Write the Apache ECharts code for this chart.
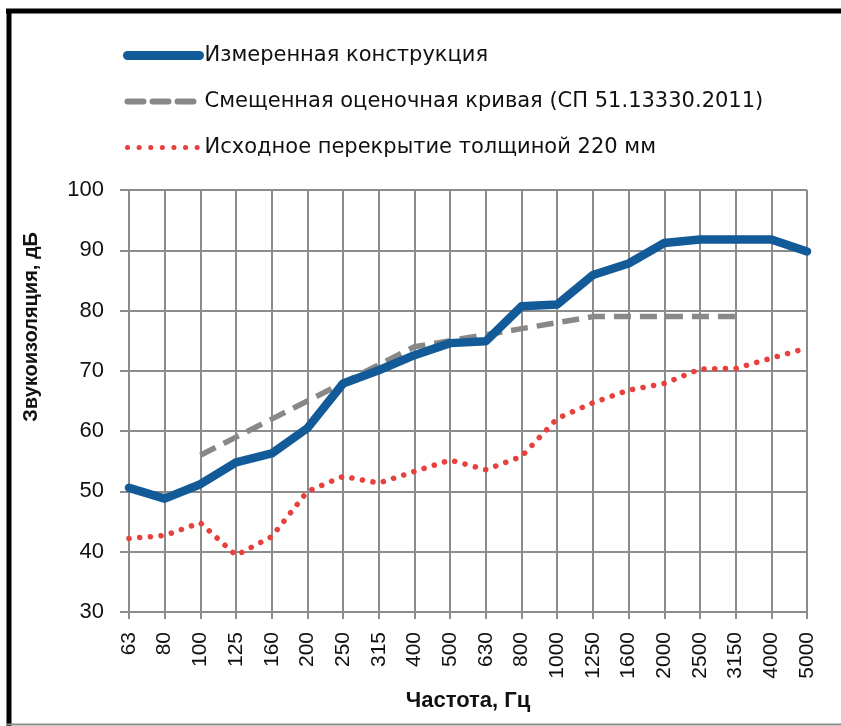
<!DOCTYPE html>
<html>
<head>
<meta charset="utf-8">
<script src="https://cdn.jsdelivr.net/npm/echarts@6/dist/echarts.min.js"></script>
<style>
html,body{margin:0;padding:0;background:#fff;}
#chart{width:841px;height:726px;}
</style>
</head>
<body>
<div id="chart"></div>
<script>
var categories = ['63','80','100','125','160','200','250','315','400','500','630','800','1000','1250','1600','2000','2500','3150','4000','5000'];
var measured = [50.6, 48.8, 51.2, 54.8, 56.3, 60.5, 67.9, 70.1, 72.6, 74.6, 74.9, 80.7, 81.0, 85.9, 87.8, 91.2, 91.8, 91.8, 91.8, 89.8];
var shiftedRef = [null, null, 56, 59, 62, 65, 68, 71, 74, 75, 76, 77, 78, 79, 79, 79, 79, 79, null, null];
var baseSlab = [42.2, 42.7, 44.8, 39.4, 42.5, 50.0, 52.5, 51.4, 53.3, 55.2, 53.6, 55.8, 62.1, 64.7, 66.8, 67.9, 70.3, 70.4, 72.1, 73.8];
var seriesNames = ['Измеренная конструкция', 'Смещенная оценочная кривая (СП 51.13330.2011)', 'Исходное перекрытие толщиной 220 мм'];
var yTicks = {min: 30, max: 100, step: 10};
var yName = 'Звукоизоляция, дБ';
var xName = 'Частота, Гц';

var FONT = 'Liberation Sans, Arial, sans-serif';
var LFONT = 'DejaVu Sans, Liberation Sans, sans-serif';
var colors = ['#125b98', '#888888', '#e8403c'];
var chart = echarts.init(document.getElementById('chart'), null, {renderer: 'canvas'});
var option = {
  backgroundColor: '#ffffff',
  animation: false,
  textStyle: {fontFamily: FONT},
  legend: {
    orient: 'vertical',
    left: 118,
    top: 40,
    itemWidth: 72,
    itemHeight: 10,
    itemGap: 25,
    textStyle: {fontSize: 21, color: '#111', fontFamily: LFONT},
    data: [
      {name: seriesNames[0], itemStyle: {opacity: 0}, lineStyle: {width: 9, cap: 'round'}},
      {name: seriesNames[1], itemStyle: {opacity: 0}, lineStyle: {width: 6, type: [16, 9], cap: 'round'}},
      {name: seriesNames[2], itemStyle: {opacity: 0}, lineStyle: {width: 5, type: [0.1, 11.5], cap: 'round'}}
    ]
  },
  grid: {left: 129, right: 34, top: 190, bottom: 114, containLabel: false},
  xAxis: {
    type: 'category',
    data: categories,
    boundaryGap: false,
    name: xName,
    nameLocation: 'middle',
    nameGap: 78,
    nameTextStyle: {fontSize: 22, fontWeight: 'bold', color: '#111', fontFamily: FONT},
    axisLine: {show: true, lineStyle: {color: '#8c8c8c', width: 2}},
    axisTick: {show: true, interval: 0, length: 7, lineStyle: {color: '#8c8c8c', width: 2}},
    axisLabel: {rotate: 90, interval: 0, margin: 20, fontSize: 21, color: '#111', fontFamily: FONT},
    splitLine: {show: true, interval: 0, lineStyle: {color: '#8c8c8c', width: 2}}
  },
  yAxis: {
    type: 'value',
    min: yTicks.min,
    max: yTicks.max,
    interval: yTicks.step,
    axisLine: {show: true, lineStyle: {color: '#8c8c8c', width: 2}},
    axisTick: {show: true, length: 9, lineStyle: {color: '#8c8c8c', width: 2}},
    axisLabel: {margin: 25, fontSize: 22, color: '#111', fontFamily: FONT},
    splitLine: {show: true, lineStyle: {color: '#8c8c8c', width: 2}}
  },
  graphic: [
    {type: 'text', left: 21, top: 232, rotation: Math.PI / 2,
     style: {text: yName, font: 'bold 20px ' + FONT, fill: '#111'}},
    {type: 'line', shape: {x1: 6, y1: 11, x2: 841, y2: 11}, style: {stroke: '#000', lineWidth: 5}},
    {type: 'line', shape: {x1: 9, y1: 9, x2: 9, y2: 726}, style: {stroke: '#000', lineWidth: 5}},
    {type: 'line', shape: {x1: 6, y1: 724.5, x2: 841, y2: 724.5}, style: {stroke: '#8c8c8c', lineWidth: 2}}
  ],
  series: [
    {
      name: seriesNames[0], type: 'line', data: measured, symbol: 'none', z: 5,
      lineStyle: {color: colors[0], width: 8.5, cap: 'round', join: 'round'},
      itemStyle: {color: colors[0]}
    },
    {
      name: seriesNames[1], type: 'line', data: shiftedRef, symbol: 'none', z: 4,
      lineStyle: {color: colors[1], width: 5.5, type: [17, 9], cap: 'butt', join: 'round'},
      itemStyle: {color: colors[1]}
    },
    {
      name: seriesNames[2], type: 'line', data: baseSlab, symbol: 'none', z: 3,
      lineStyle: {color: colors[2], width: 5.5, type: [0.1, 10.6], cap: 'round', join: 'round'},
      itemStyle: {color: colors[2]}
    }
  ]
};
chart.setOption(option);
</script>
</body>
</html>
